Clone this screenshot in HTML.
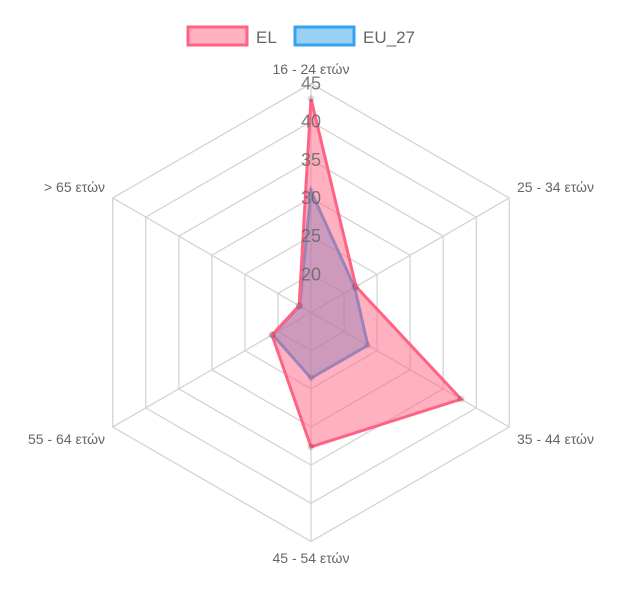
<!DOCTYPE html>
<html><head><meta charset="utf-8"><style>
body{margin:0;background:#fff;}
svg{display:block;font-family:"Liberation Sans",Arial,sans-serif;}
</style></head><body>
<svg id="c" width="621" height="591">
<g>
 <g>
  <rect x="188" y="27" width="59" height="18" fill="rgba(255,99,132,0.5)" stroke="rgb(255,99,132)" stroke-width="3"/>
  <text x="256" y="43" font-size="17" fill="#666">EL</text>
 </g>
 <g>
  <rect x="295" y="27" width="59" height="18" fill="rgba(54,162,235,0.5)" stroke="rgb(54,162,235)" stroke-width="3"/>
  <text x="363" y="43" font-size="17" fill="#666">EU_27</text>
 </g>
</g>
<g id="grid"></g>
<g id="series"></g>
<g id="ticks"></g>
<g id="plabels"></g>
</svg>
<script>
const categories = ["16 - 24 ετών","25 - 34 ετών","35 - 44 ετών","45 - 54 ετών","55 - 64 ετών","> 65 ετών"];
const elValues = [43, 21.8, 37.7, 32.6, 20.9, 16.8];
const euValues = [30.9, 21.6, 23.6, 23.6, 20.8, 16.7];
const tickValues = [20, 25, 30, 35, 40, 45];
const scaleMin = 15, scaleMax = 45;

const NS="http://www.w3.org/2000/svg";
const cx=311, cy=312.5, R=229;
function rOf(v){return (v-scaleMin)/(scaleMax-scaleMin)*R;}
function pt(i,v){const a=-Math.PI/2+i*2*Math.PI/categories.length;const r=rOf(v);return [cx+r*Math.cos(a),cy+r*Math.sin(a)];}
function mk(tag,attrs,parent){const e=document.createElementNS(NS,tag);for(const k in attrs)e.setAttribute(k,attrs[k]);parent.appendChild(e);return e;}
const grid=document.getElementById('grid');
tickValues.forEach(t=>{
 const p=categories.map((c,i)=>pt(i,t).join(',')).join(' ');
 const e=mk('polygon',{points:p,fill:'none',stroke:'#d4d4d4','stroke-width':1.3},grid);
 
 
});
categories.forEach((c,i)=>{
 const [x,y]=pt(i,scaleMax);
 const e=mk('line',{x1:cx,y1:cy,x2:x,y2:y,stroke:'#d4d4d4','stroke-width':1.3},grid);
 
 
});
const series=document.getElementById('series');
function drawSeries(vals,fill,stroke,name){
 const p=vals.map((v,i)=>pt(i,v).join(',')).join(' ');
 const e=mk('polygon',{points:p,fill:fill,stroke:stroke,'stroke-width':3,'stroke-linejoin':'miter'},series);
 
 
 vals.forEach((v,i)=>{const [x,y]=pt(i,v);
  const d=mk('circle',{cx:x,cy:y,r:3,fill:'rgba(0,0,0,0.1)',stroke:'rgba(0,0,0,0.1)'},series);
  
  
 });
}
drawSeries(euValues,'rgba(54,162,235,0.5)','rgb(54,162,235)','eu27');
drawSeries(elValues,'rgba(255,99,132,0.5)','rgb(255,99,132)','el');
const ticks=document.getElementById('ticks');
tickValues.forEach(t=>{
 const e=mk('text',{x:cx,y:cy-rOf(t)+6,'text-anchor':'middle','font-size':18,fill:'rgba(102,102,102,0.85)'},ticks);
 e.textContent=t;
 
 
});
const pl=document.getElementById('plabels');
const lp=[[311,74,'middle'],[517,192,'start'],[517,444,'start'],[311,563,'middle'],[105,444,'end'],[105,192,'end']];
categories.forEach((c,i)=>{
 const e=mk('text',{x:lp[i][0],y:lp[i][1],'text-anchor':lp[i][2],'font-size':14,fill:'#666'},pl);
 e.textContent=c;
 
 
});
</script>
</body></html>
